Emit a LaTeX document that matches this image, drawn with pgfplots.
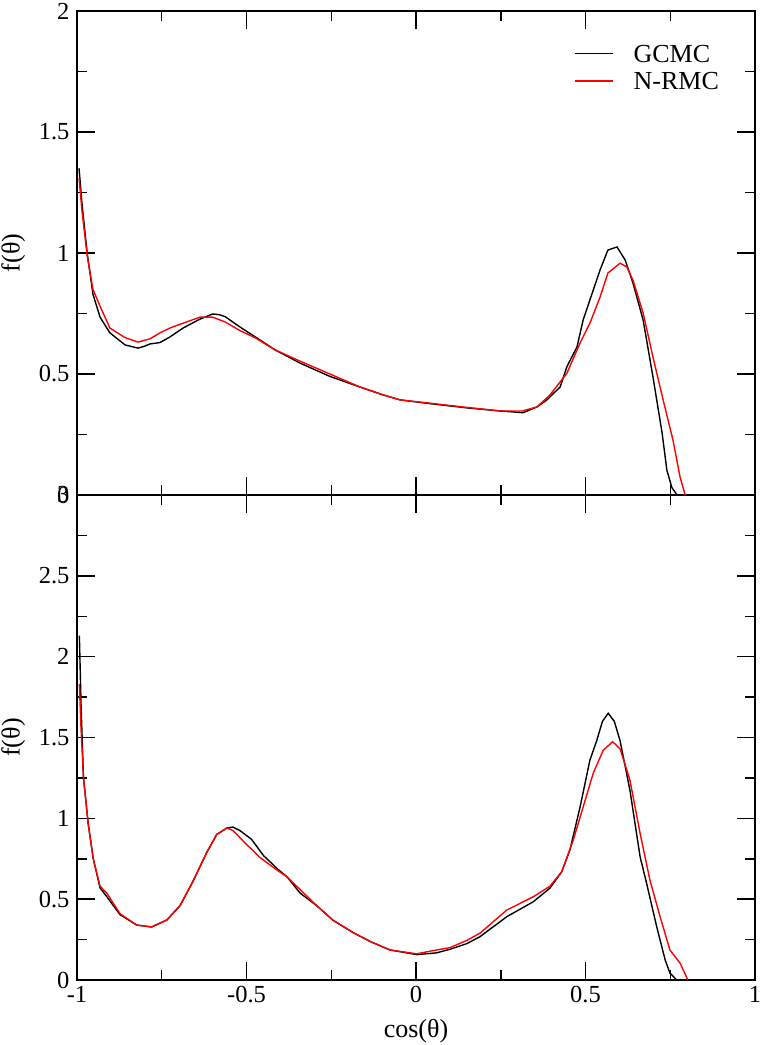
\documentclass[border=0pt]{standalone}
\usepackage{fontspec}
\setmainfont{Liberation Serif}
\usepackage{pgfplots}
\pgfplotsset{compat=1.18}
\pgfplotsset{
  myaxis/.style={
    scale only axis, width=678pt,
    xmin=-1, xmax=1,
    xtick={-1,-0.5,0,0.5,1},
    minor xtick={-0.75,-0.25,0.25,0.75},
    tick align=inside,
    major tick length=18pt, minor tick length=10pt,
    axis line style={line width=1.5pt},
    every tick/.style={line width=1.5pt, black},
    tick label style={font=\fontsize{24.5}{28}\selectfont},
    yticklabel style={xshift=-4pt},
    xticklabel style={yshift=-3pt},
    label style={font=\fontsize{26}{30}\selectfont},
    ylabel={f(θ)},
    y label style={at={(axis description cs:-0.094,0.5)}, anchor=center},
    clip=false,
  },
  gc/.style={black, line width=1.4pt},
  nr/.style={red, line width=1.4pt},
}
\begin{document}
\begin{tikzpicture}
\path[use as bounding box] (-77pt,-65pt) rectangle (686pt,980pt);
% bottom panel
\begin{axis}[myaxis, at={(0pt,0pt)}, anchor=south west, height=485pt,
  ymin=0, ymax=3,
  ytick={0,0.5,1,1.5,2,2.5,3}, yticklabels={0,0.5,1,1.5,2,2.5,3},
  minor ytick={0.25,0.75,1.25,1.75,2.25,2.75},
  xticklabels={-1,-0.5,0,0.5,1},
  xlabel={cos(θ)},
  x label style={at={(axis description cs:0.5,-0.105)}, anchor=center},
]
\addplot[gc] coordinates {
(-0.993,2.13) (-0.988,1.7) (-0.981,1.255) (-0.967,0.967) (-0.952,0.75) (-0.932,0.57)
(-0.912,0.515) (-0.873,0.404) (-0.824,0.34) (-0.78,0.328) (-0.735,0.371) (-0.696,0.46)
(-0.657,0.614) (-0.617,0.79) (-0.588,0.9) (-0.558,0.94) (-0.54,0.946) (-0.52,0.925)
(-0.485,0.87) (-0.45,0.77) (-0.41,0.69) (-0.38,0.637) (-0.342,0.538) (-0.293,0.46)
(-0.245,0.37) (-0.186,0.294) (-0.136,0.239) (-0.077,0.186) (0.002,0.157) (0.061,0.168)
(0.1,0.19) (0.15,0.225) (0.189,0.268) (0.268,0.392) (0.346,0.484) (0.395,0.568)
(0.43,0.67) (0.454,0.804) (0.484,1.07) (0.513,1.36) (0.533,1.48) (0.55,1.6)
(0.567,1.65) (0.585,1.6) (0.602,1.48) (0.631,1.175) (0.661,0.763) (0.68,0.6)
(0.71,0.33) (0.735,0.124) (0.749,0.043) (0.769,0)
};
\addplot[nr] coordinates {
(-0.993,1.83) (-0.988,1.55) (-0.981,1.255) (-0.967,0.967) (-0.952,0.75) (-0.932,0.58)
(-0.912,0.537) (-0.873,0.41) (-0.824,0.34) (-0.78,0.328) (-0.735,0.371) (-0.696,0.46)
(-0.657,0.614) (-0.617,0.79) (-0.588,0.9) (-0.558,0.94) (-0.54,0.925) (-0.51,0.86)
(-0.46,0.757) (-0.41,0.68) (-0.38,0.637) (-0.342,0.56) (-0.293,0.46) (-0.245,0.37)
(-0.186,0.294) (-0.136,0.239) (-0.077,0.186) (0.002,0.162) (0.061,0.186) (0.1,0.2)
(0.15,0.245) (0.189,0.29) (0.268,0.433) (0.346,0.515) (0.395,0.58) (0.43,0.67)
(0.464,0.866) (0.493,1.07) (0.523,1.28) (0.552,1.42) (0.58,1.474) (0.602,1.43)
(0.631,1.237) (0.661,0.908) (0.69,0.618) (0.72,0.392) (0.749,0.186) (0.779,0.104)
(0.802,0)
};
\end{axis}
% top panel
\begin{axis}[myaxis, at={(0pt,485pt)}, anchor=south west, height=484pt,
  ymin=0, ymax=2,
  ytick={0,0.5,1,1.5,2}, yticklabels={0,0.5,1,1.5,2},
  minor ytick={0.25,0.75,1.25,1.75},
  xticklabels={},
  legend style={draw=none, fill=none, font=\fontsize{26}{30}\selectfont,
    at={(rel axis cs:0.947,0.93)}, anchor=north east, row sep=10pt,
    inner sep=0pt, nodes={inner sep=0pt, text depth=0pt}},
  legend cell align=left,
  legend image code/.code={\draw[#1] (0pt,0pt) -- (38pt,0pt); \path (58pt,0pt);},
]
\addplot[gc] coordinates {
(-0.994,1.35) (-0.985,1.2) (-0.97,1.0) (-0.953,0.83) (-0.932,0.735) (-0.903,0.67)
(-0.858,0.62) (-0.82,0.607) (-0.8,0.615) (-0.785,0.624) (-0.755,0.63) (-0.726,0.653)
(-0.687,0.69) (-0.637,0.727) (-0.6,0.748) (-0.58,0.745) (-0.563,0.737) (-0.52,0.695)
(-0.475,0.654) (-0.416,0.6) (-0.342,0.545) (-0.254,0.49) (-0.165,0.446) (-0.1,0.415)
(-0.047,0.393) (0.05,0.376) (0.15,0.36) (0.25,0.347) (0.316,0.34) (0.357,0.364)
(0.386,0.393) (0.425,0.446) (0.445,0.53) (0.475,0.612) (0.493,0.723) (0.513,0.806)
(0.543,0.93) (0.566,1.012) (0.593,1.025) (0.617,0.971) (0.64,0.876) (0.67,0.723)
(0.699,0.488) (0.726,0.256) (0.74,0.103) (0.755,0.03) (0.77,0)
};
\addlegendentry{GCMC}
\addplot[nr] coordinates {
(-0.994,1.31) (-0.985,1.17) (-0.97,0.99) (-0.953,0.85) (-0.932,0.78) (-0.903,0.69)
(-0.858,0.65) (-0.82,0.632) (-0.785,0.645) (-0.755,0.67) (-0.726,0.69) (-0.687,0.71)
(-0.637,0.735) (-0.6,0.735) (-0.563,0.715) (-0.52,0.68) (-0.475,0.65) (-0.416,0.6)
(-0.342,0.553) (-0.254,0.5) (-0.165,0.446) (-0.1,0.415) (-0.047,0.393) (0.05,0.378)
(0.15,0.362) (0.25,0.347) (0.313,0.347) (0.357,0.364) (0.395,0.413) (0.445,0.503)
(0.484,0.628) (0.513,0.71) (0.543,0.818) (0.566,0.917) (0.602,0.958) (0.622,0.942)
(0.64,0.888) (0.67,0.752) (0.699,0.57) (0.729,0.393) (0.758,0.227) (0.779,0.074)
(0.794,0)
};
\addlegendentry{N-RMC}
\end{axis}
\end{tikzpicture}
\end{document}
